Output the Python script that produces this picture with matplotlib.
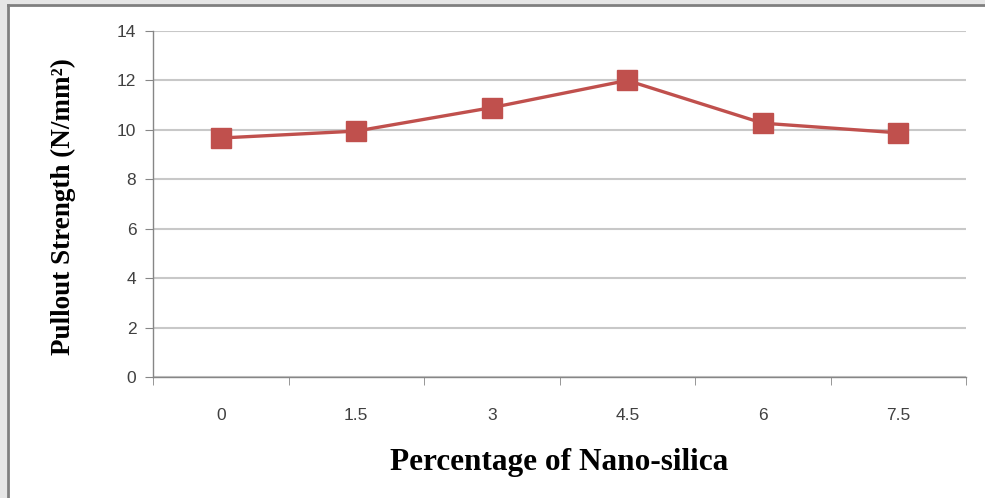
import numpy as np
import matplotlib
matplotlib.use("Agg")
import matplotlib.pyplot as plt
from matplotlib.patches import Rectangle
from matplotlib.lines import Line2D

# Pullout strength against nano-silica content
nano_silica = ["0", "1.5", "3", "4.5", "6", "7.5"]
pullout_strength = [9.67, 9.95, 10.9, 12.0, 10.27, 9.88]
y_ticks = [0, 2, 4, 6, 8, 10, 12, 14]

line_color = "#C0504D"
grid_color = "#C8C8C8"
axis_color = "#868686"

fig = plt.figure(figsize=(9.85, 4.98), dpi=100)
fig.patch.set_facecolor("white")
ax = fig.add_axes([153 / 985, 1 - 377 / 498, (966 - 153) / 985, (377 - 31) / 498])

x = np.arange(len(nano_silica))
ax.plot(x, pullout_strength, color=line_color, linewidth=2.4,
        marker="s", markersize=14, markerfacecolor=line_color,
        markeredgecolor=line_color, zorder=3)

ax.set_xlim(-0.5, len(nano_silica) - 0.5)
ax.set_ylim(0, 14)
ax.set_yticks(y_ticks)
ax.set_xticks(x)
ax.set_xticklabels(nano_silica)
ax.set_xticks(np.arange(-0.5, len(nano_silica)), minor=True)

ax.yaxis.grid(True, color=grid_color, linewidth=1.5)
ax.set_axisbelow(True)

for side in ["top", "right"]:
    ax.spines[side].set_visible(False)
for side in ["left", "bottom"]:
    ax.spines[side].set_color(axis_color)
    ax.spines[side].set_linewidth(1.0)

ax.tick_params(axis="y", length=6, color=axis_color, labelsize=12.5,
               labelcolor="#404040", pad=6)
ax.tick_params(axis="x", which="major", length=0, labelsize=12.5,
               labelcolor="#404040", pad=22)
ax.tick_params(axis="x", which="minor", length=6, color=axis_color)
for lab in ax.get_xticklabels() + ax.get_yticklabels():
    lab.set_family("Liberation Sans")

ax.set_xlabel("Percentage of Nano-silica", family="Liberation Serif",
              fontweight="bold", fontsize=22.5, labelpad=18)
fig.text(63 / 985, 1 - 207 / 498, "Pullout Strength (N/mm²)", rotation=90,
         family="Liberation Serif", fontweight="bold", fontsize=19.5,
         ha="center", va="center")

# outer frame of the chart box
fig.patches.append(Rectangle((0, 1 - 4 / 498), 1, 4 / 498, transform=fig.transFigure,
                             facecolor="#E6E6E6", edgecolor="none", zorder=0))
fig.patches.append(Rectangle((0, 0), 7 / 985, 1, transform=fig.transFigure,
                             facecolor="#E6E6E6", edgecolor="none", zorder=0))
fig.lines.append(Line2D([8 / 985, 1], [1 - 5 / 498, 1 - 5 / 498],
                        transform=fig.transFigure, color="#7F7F7F", linewidth=2))
fig.lines.append(Line2D([8 / 985, 8 / 985], [0, 1 - 5 / 498],
                        transform=fig.transFigure, color="#7F7F7F", linewidth=2))

fig.savefig("out.png", dpi=100, facecolor="white")
